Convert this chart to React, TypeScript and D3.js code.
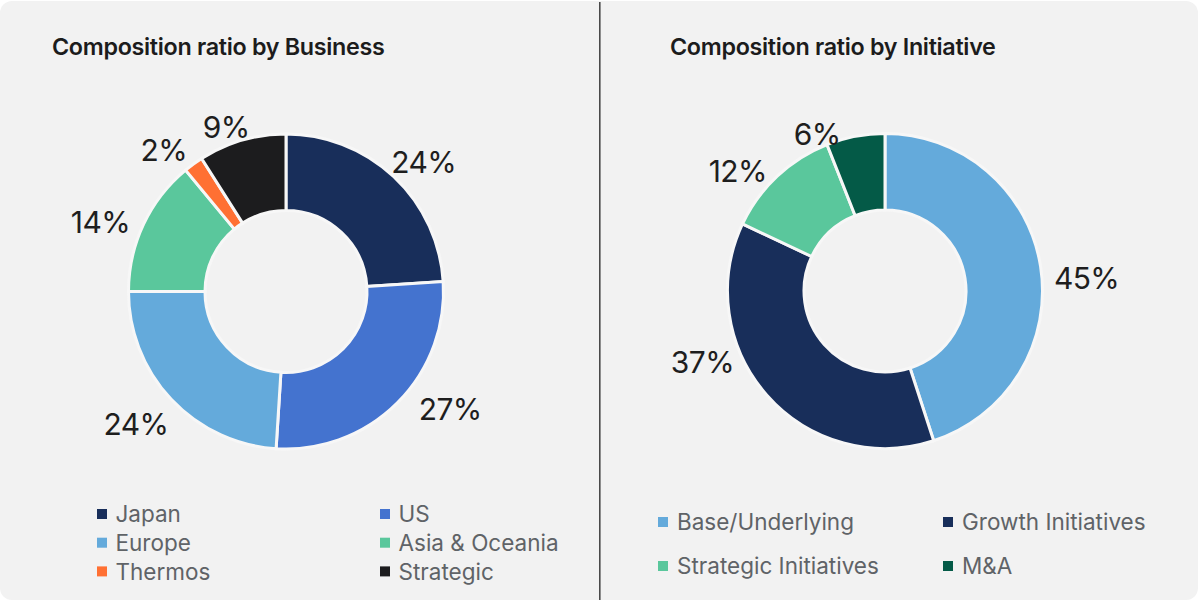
import React from 'react';
import * as d3 from 'd3';

// ---- data ----
const businessCategories = ['Japan', 'US', 'Europe', 'Asia & Oceania', 'Thermos', 'Strategic'];
const businessValues = [24, 27, 24, 14, 2, 9];
const businessColors = ['#182e5a', '#4473cf', '#64aadb', '#5ac79c', '#ff7033', '#1c1c1e'];

const initiativeCategories = ['Base/Underlying', 'Growth Initiatives', 'Strategic Initiatives', 'M&A'];
const initiativeValues = [45, 37, 12, 6];
const initiativeColors = ['#64aadb', '#182e5a', '#5ac79c', '#045a47'];

// ---- layout (label placement around each ring) ----
const businessLabelNudge = [3.6, -9.4, 1.8, -4.8, -4.8, -3.8];
const businessLabelRadius = [189, 202, 200, 198, 187, 175];
const initiativeLabelNudge = [5.3, 20.1, -7.6, -12.6];
const initiativeLabelRadius = [202, 196, 190, 171];

const W = 1198;
const H = 600;
const OUTER = 157.5;
const INNER = 81;
const FONT = 'Inter, "Noto Sans", sans-serif';

type DonutProps = {
  cx: number; cy: number; values: number[]; colors: string[];
  nudge: number[]; radius: number[];
};

function Donut({ cx, cy, values, colors, nudge, radius }: DonutProps) {
  const pie = d3.pie<number>().sort(null).value((d) => d).startAngle(0).endAngle(2 * Math.PI);
  const arcs = pie(values);
  const arc = d3.arc<d3.PieArcDatum<number>>().innerRadius(INNER).outerRadius(OUTER);
  const total = d3.sum(values);
  return (
    <g transform={`translate(${cx},${cy})`}>
      {arcs.map((a, i) => (
        <path key={i} d={arc(a) || ''} fill={colors[i]} stroke="#f7f7f7" strokeWidth={3} strokeLinejoin="miter" />
      ))}
      {arcs.map((a, i) => {
        const mid = (a.startAngle + a.endAngle) / 2 + (nudge[i] * Math.PI) / 180;
        const r = radius[i];
        const x = r * Math.sin(mid);
        const y = -r * Math.cos(mid);
        return (
          <text key={'t' + i} x={x} y={y} dy="0.36em" textAnchor="middle" fontFamily={FONT}
            fontSize={30} fontWeight={400} fill="#1e1e1e" letterSpacing={-0.6}>
            {Math.round((a.data / total) * 100)}%
          </text>
        );
      })}
    </g>
  );
}

type LegendProps = {
  x: number; y: number; colGap: number; rowGap: number; textGap: number;
  cats: string[]; colors: string[];
};

function Legend({ x, y, colGap, rowGap, textGap, cats, colors }: LegendProps) {
  return (
    <g>
      {cats.map((c, i) => {
        const col = i % 2;
        const row = Math.floor(i / 2);
        const lx = x + col * colGap;
        const ly = y + row * rowGap;
        return (
          <g key={c}>
            <rect x={lx} y={ly - 5} width={10} height={10} fill={colors[i]} />
            <text x={lx + textGap} y={ly} dy="0.36em" fontFamily={FONT} fontSize={22.5}
              fill="#5f6367" fontWeight={400}>{c}</text>
          </g>
        );
      })}
    </g>
  );
}

export default function App() {
  return (
    <svg width={W} height={H} style={{ position: 'absolute', left: 0, top: 0, display: 'block' }}>
      <rect x={0} y={1} width={W} height={H - 1} rx={12} ry={12} fill="#f2f2f2" />
      <line x1={599.8} x2={599.8} y1={2} y2={H} stroke="#4a4a4a" strokeWidth={1.6} />
      <text x={52} y={55} fontFamily={FONT} fontSize={23.3} fontWeight={600} fill="#1c1c1c" letterSpacing={-0.3}>
        Composition ratio by Business
      </text>
      <text x={670} y={55} fontFamily={FONT} fontSize={23.3} fontWeight={600} fill="#1c1c1c" letterSpacing={-0.3}>
        Composition ratio by Initiative
      </text>
      <Donut cx={286} cy={291.5} values={businessValues} colors={businessColors}
        nudge={businessLabelNudge} radius={businessLabelRadius} />
      <Donut cx={885} cy={291} values={initiativeValues} colors={initiativeColors}
        nudge={initiativeLabelNudge} radius={initiativeLabelRadius} />
      <Legend x={97} y={514} colGap={283} rowGap={28.7} textGap={18.5}
        cats={businessCategories} colors={businessColors} />
      <Legend x={658} y={522} colGap={285} rowGap={44} textGap={19}
        cats={initiativeCategories} colors={initiativeColors} />
    </svg>
  );
}
